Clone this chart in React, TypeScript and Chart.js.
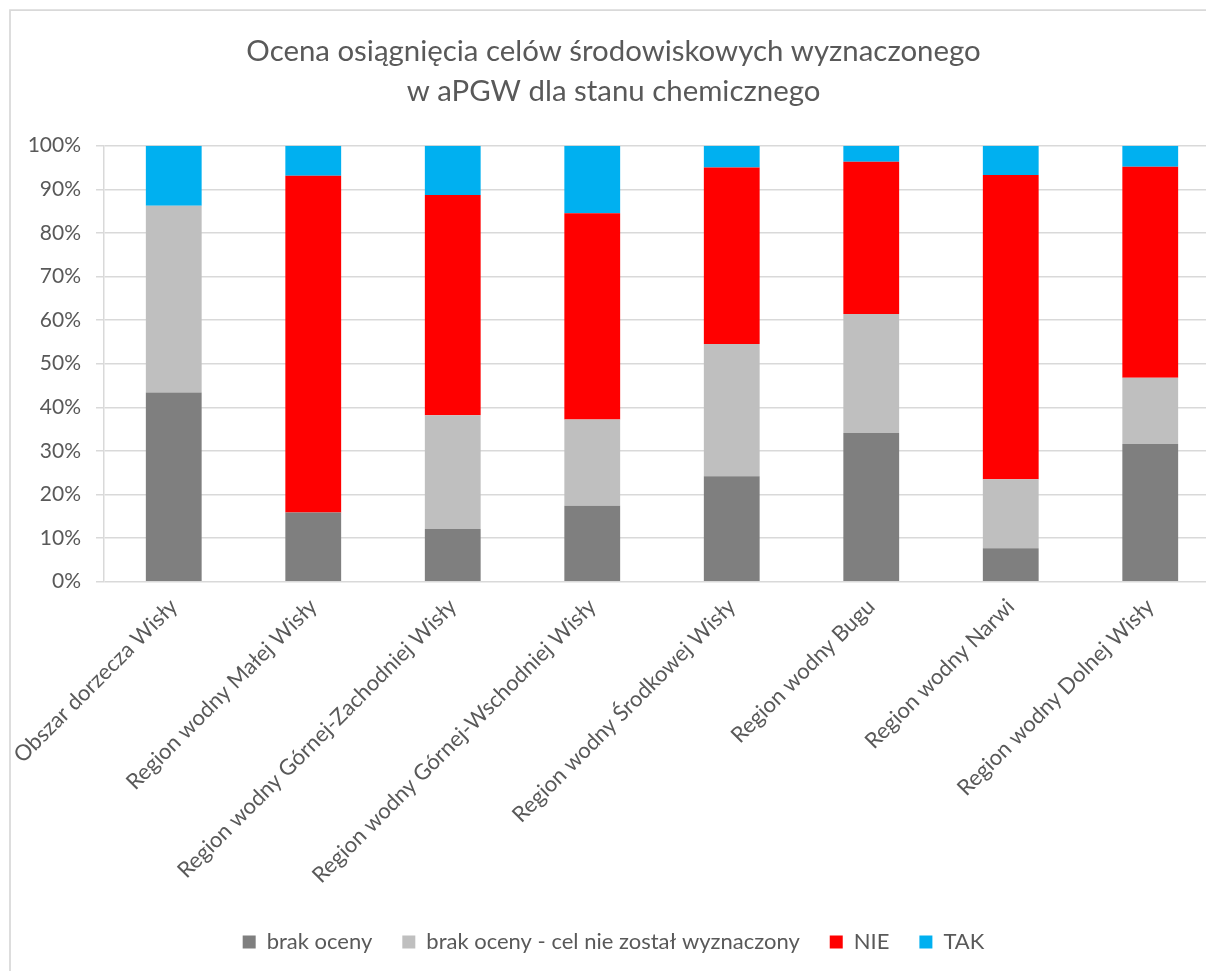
import React, { useEffect, useRef } from "react";
import { Chart, registerables } from "chart.js";

Chart.register(...registerables);

const titleLines = [
  "Ocena osiągnięcia celów środowiskowych wyznaczonego",
  "w aPGW dla stanu chemicznego",
];

const categories = [
  "Obszar dorzecza Wisły",
  "Region wodny Małej Wisły",
  "Region wodny Górnej-Zachodniej Wisły",
  "Region wodny Górnej-Wschodniej Wisły",
  "Region wodny Środkowej Wisły",
  "Region wodny Bugu",
  "Region wodny Narwi",
  "Region wodny Dolnej Wisły",
];

const seriesNames = [
  "brak oceny",
  "brak oceny - cel nie został wyznaczony",
  "NIE",
  "TAK",
];

const brakOceny = [43.4, 15.9, 12.1, 17.4, 24.2, 34.1, 7.7, 31.6];
const brakCelu = [42.8, 0, 26.1, 19.8, 30.3, 27.3, 15.8, 15.2];
const nie = [0, 77.2, 50.5, 47.3, 40.5, 34.9, 69.8, 48.4];
const tak = [13.8, 6.9, 11.3, 15.5, 5.0, 3.7, 6.7, 4.8];

const seriesColors = ["#7F7F7F", "#BFBFBF", "#FF0000", "#00B0F0"];

const yTickValues = [0, 10, 20, 30, 40, 50, 60, 70, 80, 90, 100];

const FONT = "Lato";
const TEXT = "#595959";
const GRID = "#D9D9D9";

const CANVAS_W = 1230;
const CANVAS_H = 971;

const framePlugin = {
  id: "frame",
  beforeDraw(chart: any) {
    const ctx = chart.ctx;
    ctx.save();
    ctx.fillStyle = "#ffffff";
    ctx.fillRect(0, 0, chart.width, chart.height);
    ctx.strokeStyle = GRID;
    ctx.lineWidth = 1.75;
    ctx.beginPath();
    ctx.moveTo(10, chart.height + 10);
    ctx.lineTo(10, 10);
    ctx.lineTo(chart.width + 10, 10);
    ctx.stroke();
    ctx.restore();
  },
};

export default function App() {
  const ref = useRef<HTMLCanvasElement | null>(null);

  useEffect(() => {
    if (!ref.current) return;
    const allSeries = [brakOceny, brakCelu, nie, tak];
    const chart = new Chart(ref.current, {
      type: "bar",
      data: {
        labels: categories,
        datasets: allSeries.map((d, i) => ({
          label: seriesNames[i],
          data: d,
          backgroundColor: seriesColors[i],
          borderWidth: 0,
          categoryPercentage: 1,
          barPercentage: 0.4,
        })),
      },
      plugins: [framePlugin],
      options: {
        responsive: false,
        animation: false,
        devicePixelRatio: 1,
        layout: { padding: { left: 7, right: 10, top: 0, bottom: 8 } },
        plugins: {
          tooltip: { enabled: false },
          title: {
            display: true,
            text: titleLines,
            color: TEXT,
            font: { family: FONT, size: 29.4, weight: "normal", lineHeight: 40 / 29.4 },
            padding: { top: 32, bottom: 33.7 },
          },
          legend: {
            position: "bottom",
            labels: {
              boxWidth: 13,
              boxHeight: 13,
              padding: 30,
              color: TEXT,
              font: { family: FONT, size: 22 },
            },
          },
        },
        scales: {
          x: {
            stacked: true,
            grid: { display: false },
            border: { display: false },
            ticks: {
              autoSkip: false,
              maxRotation: 45,
              minRotation: 45,
              color: TEXT,
              padding: 4,
              font: { family: FONT, size: 22 },
            },
            afterFit(scale: any) {
              scale.height = 319.3;
            },
          },
          y: {
            stacked: true,
            min: 0,
            max: 100,
            afterBuildTicks(scale: any) {
              scale.ticks = yTickValues.map((v) => ({ value: v }));
            },
            grid: { color: GRID, lineWidth: 1.5, tickLength: 8, drawTicks: true },
            border: { display: true, color: GRID, width: 1.5 },
            ticks: {
              color: TEXT,
              padding: 15,
              font: { family: FONT, size: 21 },
              callback: (v: any) => `${v}%`,
            },
            afterFit(scale: any) {
              scale.width = 97;
            },
          },
        },
      },
    } as any);
    return () => chart.destroy();
  }, []);

  return (
    <div
      style={{
        position: "fixed",
        left: 0,
        top: 0,
        width: 1206,
        height: 971,
        overflow: "hidden",
        background: "#fff",
      }}
    >
      <canvas ref={ref} width={CANVAS_W} height={CANVAS_H} style={{ display: "block" }} />
    </div>
  );
}
